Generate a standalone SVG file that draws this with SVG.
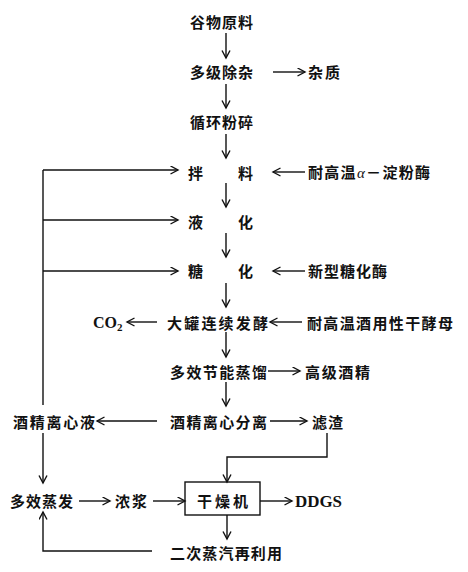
<svg xmlns="http://www.w3.org/2000/svg" width="468" height="572" viewBox="0 0 468 572">
<defs>
<style>
.t{font-family:"Noto Sans CJK SC","Noto Sans CJK JP",sans-serif;font-size:15px;font-weight:bold;fill:#111}
.s{font-family:"Liberation Serif","Times New Roman",serif;font-size:16px;font-weight:bold;fill:#111}
.c line,.c path{stroke:#111;stroke-width:1.4;fill:none}
.a{marker-end:url(#ah)}
</style>
<marker id="ah" markerUnits="userSpaceOnUse" markerWidth="10" markerHeight="10" refX="8" refY="4.5" orient="auto">
<path d="M0.5,0.5 L8,4.5 L0.5,8.5" fill="none" stroke="#111" stroke-width="1.4"/>
</marker>
</defs>
<rect width="468" height="572" fill="#fff"/>
<g id="n1"><text class="t" x="190" y="28" textLength="63" lengthAdjust="spacing">谷物原料</text></g>
<g id="n2"><text class="t" x="190" y="78" textLength="63" lengthAdjust="spacing">多级除杂</text></g>
<g id="n3"><text class="t" x="308" y="78" textLength="32" lengthAdjust="spacing">杂质</text></g>
<g id="n4"><text class="t" x="190" y="128" textLength="63" lengthAdjust="spacing">循环粉碎</text></g>
<g id="n5"><text class="t" x="188" y="179">拌</text><text class="t" x="238" y="179">料</text></g>
<g id="n6"><text class="t" x="308" y="178" textLength="122" lengthAdjust="spacing">耐高温<tspan font-family="Liberation Serif" font-style="italic" font-weight="normal">α</tspan>－淀粉酶</text></g>
<g id="n7"><text class="t" x="188" y="228">液</text><text class="t" x="238" y="228">化</text></g>
<g id="n8"><text class="t" x="188" y="277">糖</text><text class="t" x="238" y="277">化</text></g>
<g id="n9"><text class="t" x="308" y="277" textLength="79" lengthAdjust="spacing">新型糖化酶</text></g>
<g id="n10"><text class="t" x="167" y="329" textLength="101" lengthAdjust="spacing">大罐连续发酵</text></g>
<g id="n11"><text class="s" x="93" y="328">CO<tspan font-size="11" dy="3">2</tspan></text></g>
<g id="n12"><text class="t" x="307" y="329" textLength="146" lengthAdjust="spacing">耐高温酒用性干酵母</text></g>
<g id="n13"><text class="t" x="170" y="378" textLength="97" lengthAdjust="spacing">多效节能蒸馏</text></g>
<g id="n14"><text class="t" x="305" y="378" textLength="65" lengthAdjust="spacing">高级酒精</text></g>
<g id="n15"><text class="t" x="170" y="428" textLength="97" lengthAdjust="spacing">酒精离心分离</text></g>
<g id="n16"><text class="t" x="13" y="428" textLength="82" lengthAdjust="spacing">酒精离心液</text></g>
<g id="n17"><text class="t" x="312" y="428" textLength="31" lengthAdjust="spacing">滤渣</text></g>
<g id="n18"><text class="t" x="10" y="507" textLength="63" lengthAdjust="spacing">多效蒸发</text></g>
<g id="n19"><text class="t" x="115" y="507" textLength="32" lengthAdjust="spacing">浓浆</text></g>
<g id="n20"><rect x="185" y="482" width="75" height="33" fill="none" stroke="#111" stroke-width="1.4"/><text class="t" x="197" y="507" textLength="51" lengthAdjust="spacing">干燥机</text></g>
<g id="n21"><text class="s" x="295" y="507" textLength="47" lengthAdjust="spacingAndGlyphs">DDGS</text></g>
<g id="n22"><text class="t" x="170" y="559" textLength="112" lengthAdjust="spacing">二次蒸汽再利用</text></g>
<g id="connectors" class="c">
<line class="a" x1="226" y1="33" x2="226" y2="58"/>
<line class="a" x1="273" y1="72" x2="305" y2="72"/>
<line class="a" x1="226" y1="84" x2="226" y2="108"/>
<line class="a" x1="226" y1="134" x2="226" y2="158"/>
<line class="a" x1="305" y1="172" x2="273" y2="172"/>
<line class="a" x1="226" y1="183" x2="226" y2="207"/>
<line class="a" x1="226" y1="233" x2="226" y2="257"/>
<line class="a" x1="305" y1="271" x2="273" y2="271"/>
<line class="a" x1="226" y1="283" x2="226" y2="307"/>
<line class="a" x1="157" y1="322" x2="127" y2="322"/>
<line class="a" x1="302" y1="322" x2="270" y2="322"/>
<line class="a" x1="226" y1="332" x2="226" y2="357"/>
<line class="a" x1="268" y1="371" x2="300" y2="371"/>
<line class="a" x1="226" y1="382" x2="226" y2="406"/>
<line class="a" x1="157" y1="421" x2="97" y2="421"/>
<line class="a" x1="270" y1="421" x2="307" y2="421"/>
<line x1="43" y1="405" x2="43" y2="170"/>
<line class="a" x1="43" y1="170" x2="178" y2="170"/>
<line class="a" x1="43" y1="220" x2="178" y2="220"/>
<line class="a" x1="43" y1="271" x2="178" y2="271"/>
<line class="a" x1="43" y1="433" x2="43" y2="483"/>
<path class="a" d="M327,433 V457 H227 V482"/>
<line class="a" x1="79" y1="501" x2="110" y2="501"/>
<line class="a" x1="153" y1="501" x2="185" y2="501"/>
<line class="a" x1="260" y1="501" x2="292" y2="501"/>
<line class="a" x1="227" y1="515" x2="227" y2="539"/>
<path class="a" d="M152,551 H43 V512"/>
</g>
</svg>
